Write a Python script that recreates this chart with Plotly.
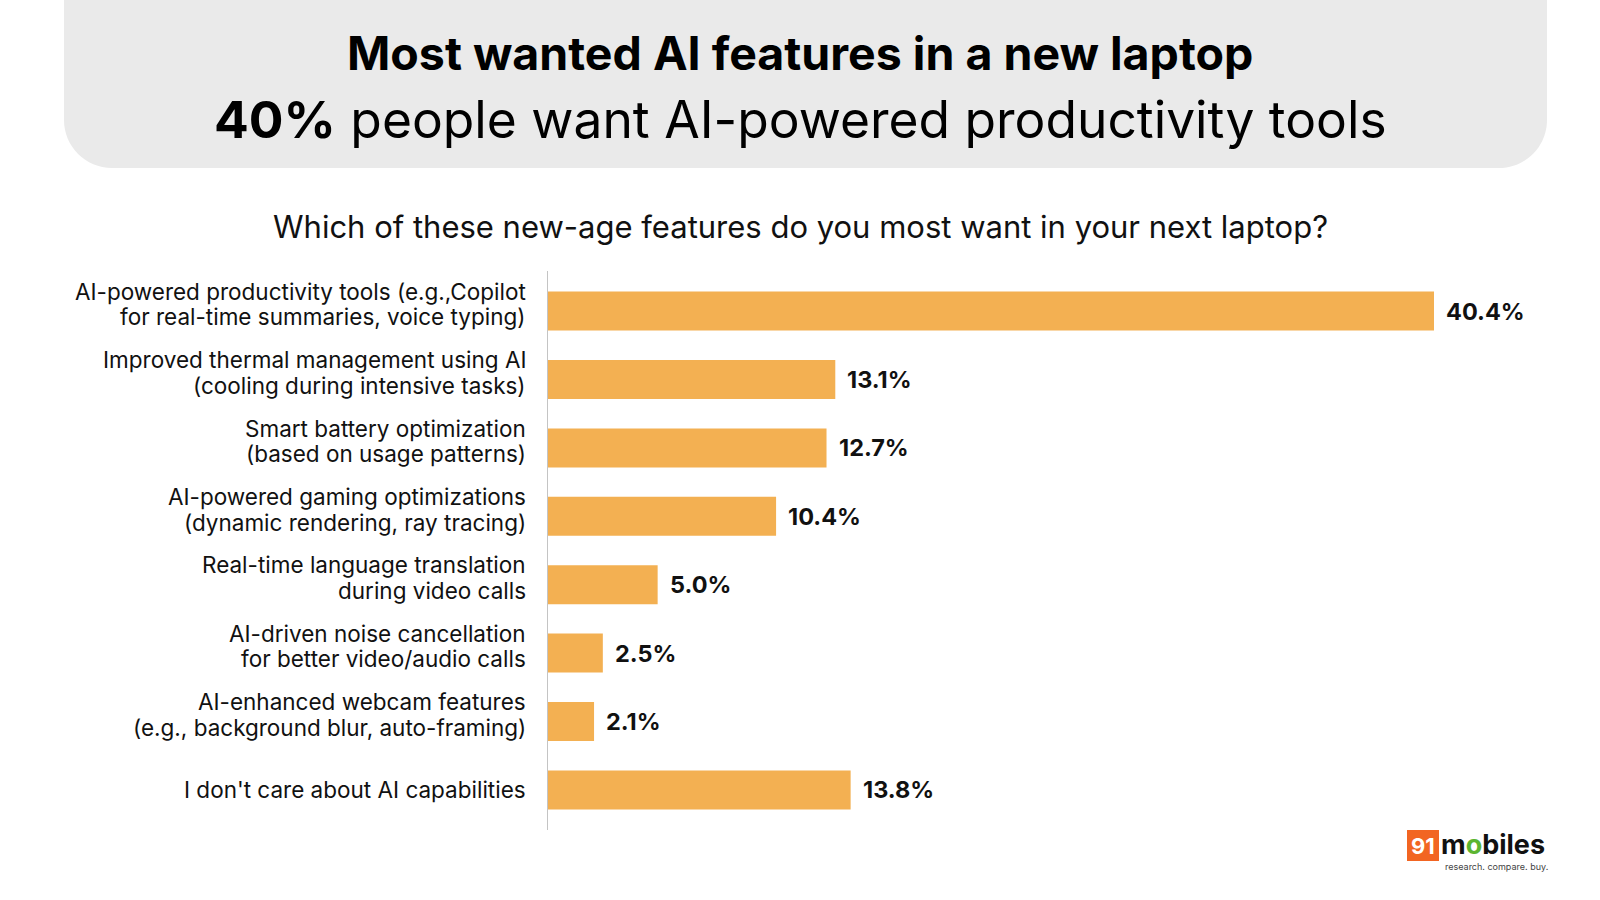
import plotly.graph_objects as go

# ---------------- data ----------------
categories = [
    "AI-powered productivity tools (e.g.,Copilot<br>for real-time summaries, voice typing)",
    "Improved thermal management using AI<br>(cooling during intensive tasks)",
    "Smart battery optimization<br>(based on usage patterns)",
    "AI-powered gaming optimizations<br>(dynamic rendering, ray tracing)",
    "Real-time language translation<br>during video calls",
    "AI-driven noise cancellation<br>for better video/audio calls",
    "AI-enhanced webcam features<br>(e.g., background blur, auto-framing)",
    "I don't care about AI capabilities",
]
values = [40.4, 13.1, 12.7, 10.4, 5.0, 2.5, 2.1, 13.8]
value_labels = [f"{v:.1f}%" for v in values]

title_line1 = "Most wanted AI features in a new laptop"
title_line2 = "<b>40%</b> people want AI-powered productivity tools"
subtitle = "Which of these new-age features do you most want in your next laptop?"

# ---------------- layout geometry (pixels) ----------------
W, H = 1600, 900
PL, PR, PT, PB = 548, 1560, 271, 830  # plot area box
FONT = "Inter"


def px(x):
    return (x - PL) / (PR - PL)


def py(y):
    return (PB - y) / (PB - PT)


fig = go.Figure()
fig.add_trace(go.Bar(
    x=values,
    y=categories,
    orientation="h",
    marker=dict(color="#F3B052", line=dict(width=0)),
    width=0.57,
    hoverinfo="skip",
))

annotations = []
for c, v, t in zip(categories, values, value_labels):
    annotations.append(dict(
        x=v, y=c, xref="x", yref="y", text=f"<b>{t}</b>", showarrow=False,
        xanchor="left", yanchor="middle", xshift=10,
        font=dict(family=FONT, size=23.5, color="#111111"),
    ))
    # category label, each line placed with tight line spacing
    lines = c.split("<br>")
    n = len(lines)
    for i, ln in enumerate(lines):
        shift = 0 if n == 1 else (25.5 * ((n - 1) / 2 - i) + 7)
        annotations.append(dict(
            x=0, y=c, xref="x", yref="y", text=ln, showarrow=False,
            xanchor="right", yanchor="middle", xshift=-20, yshift=shift,
            font=dict(family=FONT, size=22.5, color="#111111"),
        ))

annotations += [
    dict(x=px(800), y=py(53), xref="paper", yref="paper", text=f"<b>{title_line1}</b>",
         showarrow=False, xanchor="center", yanchor="middle",
         font=dict(family=FONT, size=46.5, color="#000000")),
    dict(x=px(800), y=py(119), xref="paper", yref="paper", text=title_line2,
         showarrow=False, xanchor="center", yanchor="middle",
         font=dict(family=FONT, size=51.5, color="#000000")),
    dict(x=px(800), y=py(226), xref="paper", yref="paper", text=subtitle,
         showarrow=False, xanchor="center", yanchor="middle",
         font=dict(family=FONT, size=31, color="#111111")),
    # logo
    dict(x=px(1423), y=py(846), xref="paper", yref="paper", text="<b>91</b>",
         showarrow=False, xanchor="center", yanchor="middle",
         font=dict(family=FONT, size=22, color="#FFFFFF")),
    dict(x=px(1439), y=py(844), xref="paper", yref="paper",
         text="<b>m<span style='color:#5CB531'>o</span>biles</b>",
         showarrow=False, xanchor="left", yanchor="middle",
         font=dict(family=FONT, size=27, color="#111111")),
    dict(x=px(1443), y=py(866), xref="paper", yref="paper",
         text="research. compare. buy.",
         showarrow=False, xanchor="left", yanchor="middle",
         font=dict(family=FONT, size=9, color="#444444")),
]

# rounded title box path
x0, x1, ytop, ybot, r = 64, 1547, -30, 168, 48
k = 0.5523 * r
path = (
    f"M {px(x0)},{py(ytop)} L {px(x0)},{py(ybot - r)} "
    f"C {px(x0)},{py(ybot - r + k)} {px(x0 + r - k)},{py(ybot)} {px(x0 + r)},{py(ybot)} "
    f"L {px(x1 - r)},{py(ybot)} "
    f"C {px(x1 - r + k)},{py(ybot)} {px(x1)},{py(ybot - r + k)} {px(x1)},{py(ybot - r)} "
    f"L {px(x1)},{py(ytop)} Z"
)
shapes = [
    dict(type="path", path=path, xref="paper", yref="paper",
         fillcolor="#EAEAEA", line=dict(width=0), layer="below"),
    dict(type="rect", xref="paper", yref="paper",
         x0=px(1407), x1=px(1439), y0=py(861), y1=py(830),
         fillcolor="#F26522", line=dict(width=0)),
]

span = 40.4 * (PR - PL) / (1434 - PL)
nslots = (PB - PT) / 68.4
pad = (nslots - 8) / 2

fig.update_layout(
    width=W, height=H,
    margin=dict(l=PL, r=W - PR, t=PT, b=H - PB, pad=0),
    paper_bgcolor="#FFFFFF", plot_bgcolor="#FFFFFF",
    showlegend=False,
    bargap=0.43,
    xaxis=dict(range=[0, span], visible=False, fixedrange=True),
    yaxis=dict(
        type="category", categoryorder="array", categoryarray=categories,
        range=[7.5 + pad, -0.5 - pad],
        showline=True, linecolor="#C4C4C4", linewidth=1.2,
        showgrid=False, zeroline=False, ticks="",
        showticklabels=False,
        fixedrange=True,
    ),
    annotations=annotations,
    shapes=shapes,
)

fig.write_html("out.html", config={"displayModeBar": False})
